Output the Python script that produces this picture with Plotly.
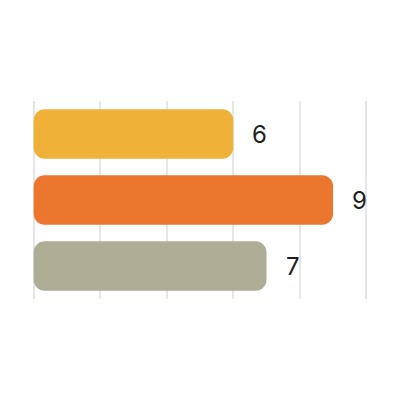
import plotly.graph_objects as go

categories = ["A", "B", "C"]
values = [6, 9, 7]
colors = ["#EFB137", "#EB762E", "#AEAD95"]

fig = go.Figure()

# drawn as floating bars (from the value back to 0) so both ends get rounded
fig.add_trace(go.Bar(
    x=[-v for v in values],
    base=values,
    y=categories,
    orientation='h',
    marker=dict(color=colors, cornerradius=11, line=dict(width=0)),
    width=0.75,
    hoverinfo='skip'
))

# value labels to the right of each bar
for cat, val in zip(categories, values):
    fig.add_annotation(
        x=val, y=cat, text=str(val), showarrow=False,
        xanchor='left', xshift=17,
        font=dict(family="Inter", size=24, color="#1f1f1f")
    )

fig.update_layout(
    width=400, height=401,
    margin=dict(l=24, r=40, t=93, b=110),
    plot_bgcolor='white', paper_bgcolor='white',
    showlegend=False,
    xaxis=dict(range=[-0.05, 10.05], dtick=2, showticklabels=False, showgrid=True,
               gridcolor='#e6e6e6', gridwidth=1.5, zeroline=False, showline=False),
    yaxis=dict(autorange='reversed', showticklabels=False, showgrid=False,
               zeroline=False, showline=False),
)

fig.write_html("out.html")
